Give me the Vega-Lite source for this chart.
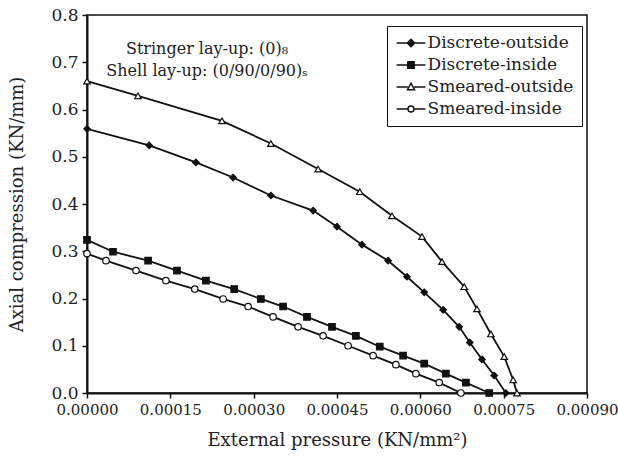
{
  "$schema": "https://vega.github.io/schema/vega-lite/v6.json",
  "autosize": "none",
  "width": 500,
  "height": 378,
  "padding": {"left": 87, "top": 15, "right": 31, "bottom": 66},
  "background": "white",
  "config": {
    "font": "DejaVu Serif",
    "view": {"stroke": "#111", "strokeWidth": 1.5},
    "axis": {
      "grid": false,
      "domainColor": "#111",
      "domainWidth": 2,
      "tickColor": "#111",
      "tickWidth": 1.5,
      "tickSize": 5,
      "labelFont": "DejaVu Serif",
      "labelFontSize": 17,
      "labelColor": "#222",
      "labelOverlap": false,
      "labelFlush": false,
      "labelBound": false,
      "titleFont": "DejaVu Serif",
      "titleFontSize": 18,
      "titleFontWeight": "normal",
      "titleColor": "#222"
    }
  },
  "datasets": {
    "curves": [
      {"series": "Discrete-outside", "p": 0.0, "f": 0.559},
      {"series": "Discrete-outside", "p": 0.000112, "f": 0.524},
      {"series": "Discrete-outside", "p": 0.000196, "f": 0.488},
      {"series": "Discrete-outside", "p": 0.000263, "f": 0.456},
      {"series": "Discrete-outside", "p": 0.000331, "f": 0.418},
      {"series": "Discrete-outside", "p": 0.000407, "f": 0.386},
      {"series": "Discrete-outside", "p": 0.00045, "f": 0.352},
      {"series": "Discrete-outside", "p": 0.000495, "f": 0.314},
      {"series": "Discrete-outside", "p": 0.000542, "f": 0.28},
      {"series": "Discrete-outside", "p": 0.000576, "f": 0.246},
      {"series": "Discrete-outside", "p": 0.000607, "f": 0.213},
      {"series": "Discrete-outside", "p": 0.000641, "f": 0.176},
      {"series": "Discrete-outside", "p": 0.00067, "f": 0.14},
      {"series": "Discrete-outside", "p": 0.000689, "f": 0.107},
      {"series": "Discrete-outside", "p": 0.000711, "f": 0.071},
      {"series": "Discrete-outside", "p": 0.000733, "f": 0.037},
      {"series": "Discrete-outside", "p": 0.000754, "f": 0.0},

      {"series": "Discrete-inside", "p": 0.0, "f": 0.324},
      {"series": "Discrete-inside", "p": 0.0000468, "f": 0.299},
      {"series": "Discrete-inside", "p": 0.00011, "f": 0.28},
      {"series": "Discrete-inside", "p": 0.000162, "f": 0.259},
      {"series": "Discrete-inside", "p": 0.000214, "f": 0.238},
      {"series": "Discrete-inside", "p": 0.000265, "f": 0.22},
      {"series": "Discrete-inside", "p": 0.000313, "f": 0.199},
      {"series": "Discrete-inside", "p": 0.000353, "f": 0.183},
      {"series": "Discrete-inside", "p": 0.000396, "f": 0.161},
      {"series": "Discrete-inside", "p": 0.000441, "f": 0.14},
      {"series": "Discrete-inside", "p": 0.000484, "f": 0.121},
      {"series": "Discrete-inside", "p": 0.000527, "f": 0.098},
      {"series": "Discrete-inside", "p": 0.000569, "f": 0.079},
      {"series": "Discrete-inside", "p": 0.000607, "f": 0.062},
      {"series": "Discrete-inside", "p": 0.000646, "f": 0.041},
      {"series": "Discrete-inside", "p": 0.000682, "f": 0.022},
      {"series": "Discrete-inside", "p": 0.000724, "f": 0.0},

      {"series": "Smeared-outside", "p": 0.0, "f": 0.66},
      {"series": "Smeared-outside", "p": 0.0000918, "f": 0.629},
      {"series": "Smeared-outside", "p": 0.000243, "f": 0.576},
      {"series": "Smeared-outside", "p": 0.000331, "f": 0.528},
      {"series": "Smeared-outside", "p": 0.000416, "f": 0.474},
      {"series": "Smeared-outside", "p": 0.000491, "f": 0.426},
      {"series": "Smeared-outside", "p": 0.000549, "f": 0.375},
      {"series": "Smeared-outside", "p": 0.000603, "f": 0.331},
      {"series": "Smeared-outside", "p": 0.000639, "f": 0.278},
      {"series": "Smeared-outside", "p": 0.000679, "f": 0.225},
      {"series": "Smeared-outside", "p": 0.000702, "f": 0.178},
      {"series": "Smeared-outside", "p": 0.000727, "f": 0.125},
      {"series": "Smeared-outside", "p": 0.000751, "f": 0.077},
      {"series": "Smeared-outside", "p": 0.000767, "f": 0.028},
      {"series": "Smeared-outside", "p": 0.000774, "f": 0.0},

      {"series": "Smeared-inside", "p": 0.0, "f": 0.295},
      {"series": "Smeared-inside", "p": 0.0000342, "f": 0.28},
      {"series": "Smeared-inside", "p": 0.0000882, "f": 0.259},
      {"series": "Smeared-inside", "p": 0.000142, "f": 0.238},
      {"series": "Smeared-inside", "p": 0.000194, "f": 0.22},
      {"series": "Smeared-inside", "p": 0.000245, "f": 0.199},
      {"series": "Smeared-inside", "p": 0.00029, "f": 0.183},
      {"series": "Smeared-inside", "p": 0.000335, "f": 0.161},
      {"series": "Smeared-inside", "p": 0.00038, "f": 0.14},
      {"series": "Smeared-inside", "p": 0.000425, "f": 0.121},
      {"series": "Smeared-inside", "p": 0.00047, "f": 0.1},
      {"series": "Smeared-inside", "p": 0.000515, "f": 0.079},
      {"series": "Smeared-inside", "p": 0.000556, "f": 0.06},
      {"series": "Smeared-inside", "p": 0.000592, "f": 0.041},
      {"series": "Smeared-inside", "p": 0.000634, "f": 0.022},
      {"series": "Smeared-inside", "p": 0.000673, "f": 0.0}
    ],
    "notes": [
      {"p": 0.000216, "f": 0.728}
    ]
  },
  "encoding": {
    "x": {
      "field": "p",
      "type": "quantitative",
      "scale": {"domain": [0, 0.0009], "nice": false, "zero": false},
      "axis": {
        "values": [0, 0.00015, 0.0003, 0.00045, 0.0006, 0.00075, 0.0009],
        "format": ".5f",
        "labelFontSize": 15,
        "labelPadding": 4,
        "title": "External pressure (KN/mm²)",
        "titlePadding": 14
      }
    },
    "y": {
      "field": "f",
      "type": "quantitative",
      "scale": {"domain": [0, 0.8], "nice": false},
      "axis": {
        "values": [0, 0.1, 0.2, 0.3, 0.4, 0.5, 0.6, 0.7, 0.8],
        "format": ".1f",
        "labelPadding": 4,
        "title": "Axial compression (KN/mm)",
        "titlePadding": 24
      }
    }
  },
  "layer": [
    {
      "data": {"name": "curves"},
      "mark": {"type": "line", "color": "#111", "strokeWidth": 1.8},
      "encoding": {"detail": {"field": "series"}}
    },
    {
      "data": {"name": "curves"},
      "mark": {"type": "point", "stroke": "#111", "strokeWidth": 1.2, "size": 42, "opacity": 1},
      "encoding": {
        "shape": {
          "field": "series",
          "type": "nominal",
          "scale": {
            "domain": ["Discrete-outside", "Discrete-inside", "Smeared-outside", "Smeared-inside"],
            "range": ["diamond", "square", "triangle-up", "circle"]
          },
          "legend": null
        },
        "fill": {
          "field": "series",
          "type": "nominal",
          "scale": {
            "domain": ["Discrete-outside", "Discrete-inside", "Smeared-outside", "Smeared-inside"],
            "range": ["#111", "#111", "white", "white"]
          },
          "legend": null
        }
      }
    },
    {
      "data": {"name": "curves"},
      "transform": [{"filter": "datum.f > 1"}],
      "mark": {"type": "point", "stroke": "#111", "strokeWidth": 1.4, "opacity": 1},
      "encoding": {
        "shape": {
          "field": "series",
          "type": "nominal",
          "scale": {
            "domain": ["Discrete-outside", "Discrete-inside", "Smeared-outside", "Smeared-inside"],
            "range": [
              "M-3.6,0H3.6M0,-0.95L0.95,0L0,0.95L-0.95,0Z",
              "M-3.6,0H3.6M-0.8,-0.8H0.8V0.8H-0.8Z",
              "M-3.6,0H-0.8M0.8,0H3.6M0,-0.95L0.9,0.7H-0.9Z",
              "M-3.6,0H-0.75M0.75,0H3.6M0.75,0A0.75,0.75 0 1,1 -0.75,0A0.75,0.75 0 1,1 0.75,0Z"
            ]
          },
          "legend": {
            "title": null,
            "orient": "none",
            "legendX": 300,
            "legendY": 11,
            "strokeColor": "#111",
            "fillColor": "white",
            "padding": 8.5,
            "rowPadding": 4,
            "symbolSize": 64,
            "symbolOffset": 7,
            "labelOffset": 8,
            "labelFont": "DejaVu Serif",
            "labelFontSize": 17,
            "labelColor": "#222",
            "symbolStrokeWidth": 1.4,
            "encode": {
              "legend": {"update": {"strokeWidth": {"value": 1.5}}}
            }
          }
        },
        "fill": {
          "field": "series",
          "type": "nominal",
          "scale": {
            "domain": ["Discrete-outside", "Discrete-inside", "Smeared-outside", "Smeared-inside"],
            "range": ["#111", "#111", "white", "white"]
          }
        }
      }
    },
    {
      "data": {"name": "notes"},
      "mark": {
        "type": "text",
        "font": "DejaVu Serif",
        "fontSize": 16,
        "fill": "#222",
        "align": "center",
        "baseline": "middle",
        "lineHeight": 22,
        "text": ["Stringer lay-up: (0)₈", "Shell lay-up: (0/90/0/90)ₛ"]
      }
    }
  ],
  "resolve": {
    "scale": {"shape": "independent", "fill": "independent"},
    "legend": {"shape": "independent", "fill": "independent"}
  }
}
